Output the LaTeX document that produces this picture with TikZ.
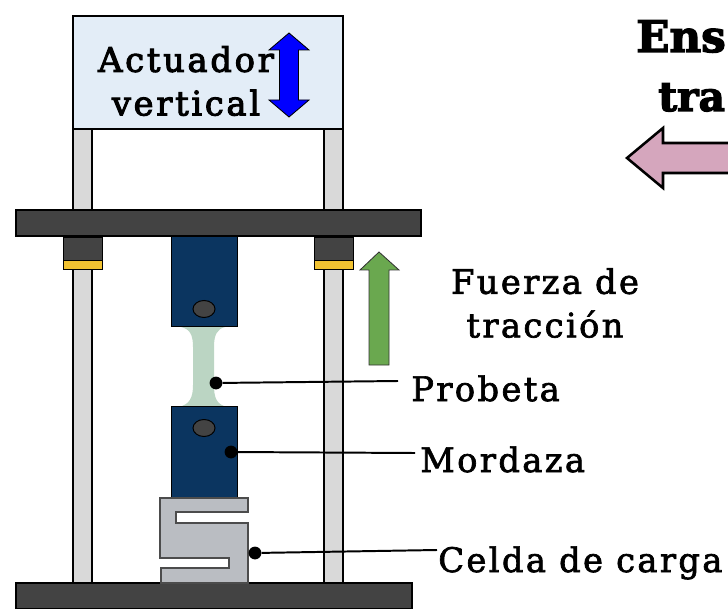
\documentclass[tikz,border=0pt]{standalone}
\usepackage{fontspec}
\setmainfont{DejaVu Serif}
\newfontfamily\rotulo{DejaVu Serif}[FakeBold=2,LetterSpace=7]
\newfontfamily\rotuloact{DejaVu Serif}[FakeBold=3,LetterSpace=8]
\newfontfamily\titlefont{DejaVu Serif Bold}[FakeBold=3]
\usepackage{xcolor}
\usetikzlibrary{shapes,arrows,positioning,calc}

\definecolor{azulact}{HTML}{E3EDF7}
\definecolor{grisbarra}{HTML}{D9D9D9}
\definecolor{grisplaca}{HTML}{434343}
\definecolor{azulmord}{HTML}{0B3560}
\definecolor{amarillo}{HTML}{F1C232}
\definecolor{verdeprob}{HTML}{BBD5C3}
\definecolor{griscelda}{HTML}{BABDC2}
\definecolor{verdeflecha}{HTML}{6AA84F}
\definecolor{rosa}{HTML}{D5A6BD}

\tikzset{
    pieza/.style={rectangle,draw,inner sep=0pt},
    barra/.style={pieza,fill=grisbarra,line width=2pt,minimum width=.475cm},
    placa/.style={pieza,fill=grisplaca,line width=1.2pt,minimum height=.65cm},
    mordaza/.style={pieza,fill=azulmord,line width=.7pt,minimum width=1.65cm},
    collar/.style={pieza,fill=grisplaca,line width=.7pt,minimum width=.975cm,minimum height=.575cm},
    anillo/.style={pieza,fill=amarillo,line width=.7pt,minimum width=.975cm,minimum height=.225cm},
    perno/.style={ellipse,draw,fill=grisplaca,line width=.7pt,inner sep=0pt,minimum width=.55cm,minimum height=.425cm},
    punto/.style={circle,fill=black,inner sep=0pt,minimum size=.32cm},
    guia/.style={line width=1.4pt},
    etiqueta/.style={font=\rotulo\fontsize{24}{31}\selectfont,inner sep=0pt,align=center},
    titulo/.style={font=\titlefont\fontsize{31}{38}\selectfont,inner sep=0pt}
}

\begin{document}
\begin{tikzpicture}[x=.025cm,y=-.025cm]
    \useasboundingbox (0,0) rectangle (728,609);

    % barras
    \node[barra,minimum height=2.025cm] (barrasupi) at (82.5,169.5) {};
    \node[barra,minimum height=2.025cm] (barrasupd) at (333.5,169.5) {};
    \node[barra,minimum height=7.85cm] (barrainfi) at (82.5,426) {};
    \node[barra,minimum height=7.85cm] (barrainfd) at (333.5,426) {};

    % actuador
    \node[pieza,fill=azulact,line width=.9pt,minimum width=6.75cm,minimum height=2.825cm] (actuador) at (208,72.5) {};
    \node[etiqueta,font=\rotuloact\fontsize{24}{31}\selectfont] (textoact) at (186,81) {Actuador\\vertical};
    \draw[fill=blue,line width=.6pt] (289,33) -- (309,50) -- (298.5,50) -- (298.5,100) -- (309,100)
        -- (289,117) -- (269,100) -- (279.5,100) -- (279.5,50) -- (269,50) -- cycle;

    % placas
    \node[placa,minimum width=10.125cm] (placasup) at (218.5,223) {};
    \node[placa,minimum width=9.9cm] (placainf) at (214,596) {};

    % collares
    \node[collar] (collari) at (82.5,249) {};
    \node[collar] (collard) at (333.5,249) {};
    \node[anillo] (anilloi) at (82.5,265) {};
    \node[anillo] (anillod) at (333.5,265) {};

    % probeta
    \fill[verdeprob] (181,327) .. controls (190,329) and (193,335) .. (193,347) -- (193,385)
        .. controls (193,397) and (190,405) .. (178,407) -- (228,407)
        .. controls (216,405) and (214,397) .. (214,385) -- (214,347)
        .. controls (214,335) and (217,329) .. (225,327) -- cycle;

    % mordazas
    \node[mordaza,minimum height=2.225cm] (mordsup) at (204,281.5) {};
    \node[mordaza,minimum height=2.275cm] (mordinf) at (204,452.5) {};
    \node[perno] (pernosup) at (204,309) {};
    \node[perno] (pernoinf) at (204,428) {};

    % celda de carga
    \draw[fill=griscelda,line width=.9pt,draw=black!70] (160,498) -- (248,498) -- (248,512) -- (176,512) -- (176,523)
        -- (248,523) -- (248,583) -- (161,583) -- (161,568) -- (229,568) -- (229,558) -- (160,558) -- cycle;

    % fuerza
    \draw[fill=verdeflecha,line width=.6pt,draw=black!80] (379,252) -- (399,270) -- (389,270) -- (389,365) -- (369,365)
        -- (369,270) -- (360,270) -- cycle;
    \node[etiqueta] (fuerza) at (545,303) {Fuerza de\\tracción};

    % etiquetas
    \node[etiqueta,anchor=base west] (probeta) at (411,401) {Probeta};
    \node[etiqueta,anchor=base west] (mordtxt) at (420,472) {Mordaza};
    \node[etiqueta,anchor=base west] (celda) at (438,572) {Celda de carga};

    % puntos y lineas
    \node[punto] (ptoprob) at (216,383) {};
    \node[punto] (ptomord) at (231,452) {};
    \node[punto] (ptocelda) at (255,553) {};
    \coordinate (finprob) at (398,381);
    \coordinate (finmord) at (415,453);
    \coordinate (fincelda) at (437,550);
    \draw[guia] (ptoprob) -- (finprob);
    \draw[guia] (ptomord) -- (finmord);
    \draw[guia] (ptocelda) -- (fincelda);

    % titulo
    \node[titulo,anchor=base west] (tit1) at (636,52) {Ens};
    \node[titulo,anchor=base west,font=\titlefont\fontsize{29}{38}\selectfont] (tit2) at (658,111) {tra};
    \draw[fill=rosa,line width=1.8pt] (735,143) -- (663,143) -- (663,128) -- (627,158) -- (663,188) -- (663,173) -- (735,173);
\end{tikzpicture}
\end{document}
